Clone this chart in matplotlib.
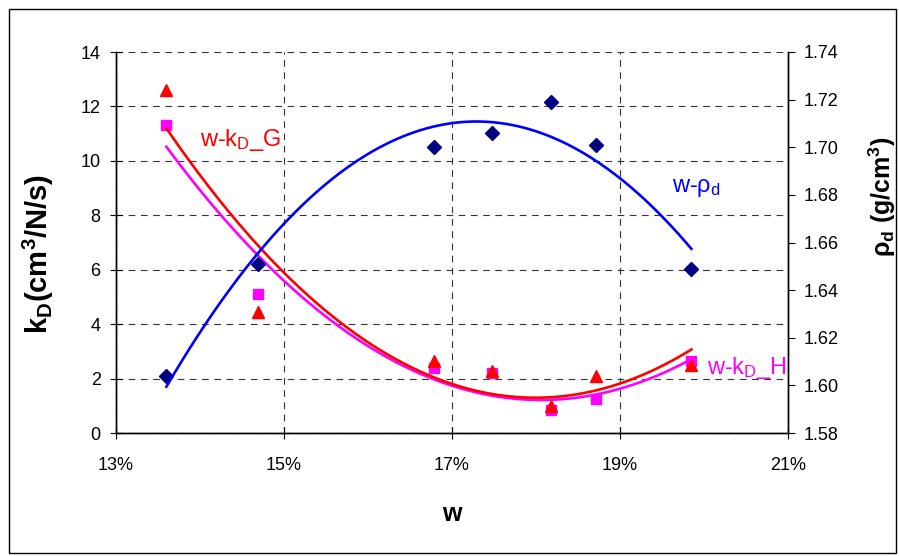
import numpy as np
import matplotlib
matplotlib.use("Agg")
import matplotlib.pyplot as plt
from matplotlib.patches import Rectangle
from matplotlib.ticker import FuncFormatter

# water content (%) and measured values
w = [13.6, 14.69, 16.78, 17.48, 18.18, 18.72, 19.85]
rho_d = [1.604, 1.651, 1.700, 1.706, 1.719, 1.701, 1.649]
kD_G = [12.6, 4.46, 2.63, 2.26, 0.98, 2.08, 2.51]
kD_H = [11.3, 5.10, 2.39, 2.20, 0.86, 1.26, 2.63]

plt.rcParams.update({
    "font.family": ["Liberation Sans", "DejaVu Sans"],
    "mathtext.fontset": "custom",
    "mathtext.rm": "Liberation Sans",
    "mathtext.bf": "Liberation Sans:bold",
    "mathtext.it": "Liberation Sans:italic",
})


def trend(x, y, deg=2):
    # 2nd order polynomial trend line, like the spreadsheet one
    c = np.polyfit(x, y, deg)
    xs = np.linspace(min(x), max(x), 200)
    return xs, np.polyval(c, xs)


fig = plt.figure(figsize=(8.99, 5.56), dpi=100)
W, H = 899, 556
ax = fig.add_axes([116 / W, 1 - 433 / H, (788 - 116) / W, (433 - 52) / H])
ax2 = ax.twinx()

ax.plot(w, kD_H, ls="none", marker="s", ms=7, color="#ff00ff", zorder=3)
ax.plot(w, kD_G, ls="none", marker="^", ms=8.5, color="#ff0000", zorder=3)
xs, ys = trend(w, kD_H)
ax.plot(xs, ys, color="#ff00ff", lw=1.9, zorder=4)
xs, ys = trend(w, kD_G)
ax.plot(xs, ys, color="#ff0000", lw=1.9, zorder=4)

ax2.plot(w, rho_d, ls="none", marker="D", ms=7, color="#000080", zorder=3)
xs, ys = trend(w, rho_d)
ax2.plot(xs, ys, color="#0000ff", lw=1.9, zorder=4)

ax.set_xlim(13, 21)
ax.set_ylim(0, 14)
ax2.set_ylim(1.58, 1.74)
ax.set_xticks([13, 15, 17, 19, 21])
ax.set_yticks(range(0, 15, 2))
ax2.set_yticks(np.arange(1.58, 1.7401, 0.02))
ax.xaxis.set_major_formatter(FuncFormatter(lambda v, p: f"{v:.0f}%"))
ax2.yaxis.set_major_formatter(FuncFormatter(lambda v, p: f"{v:.2f}"))

ax.grid(True, color="#333333", ls=(0, (6, 5)), lw=0.8)
for a in (ax, ax2):
    a.spines["top"].set_visible(False)
    for s in ("left", "bottom", "right"):
        a.spines[s].set_linewidth(1.0)
ax.tick_params(axis="both", direction="inout", length=8, width=0.8,
               labelsize=13, pad=7)
ax2.tick_params(axis="y", direction="out", length=5, width=0.8,
                labelsize=13, pad=6)
ax.tick_params(axis="x", pad=13)

ax.set_xlabel("w", fontsize=18, fontweight="bold")
ax.xaxis.set_label_coords(0.5, -0.18)
ax.set_ylabel(r"k$_\mathbf{D}$(cm$^\mathbf{3}$/N/s)", fontsize=21,
              fontweight="bold")
ax.yaxis.set_label_coords(-0.089, 0.47)
ax2.set_ylabel(r"ρ$_\mathbf{d}$ (g/cm$^\mathbf{3}$)", fontsize=18,
               fontweight="bold", rotation=90)
ax2.yaxis.set_label_coords(1.117, 0.62)

ax.text(14.48, 10.77, r"w-k$_\mathrm{D}$_G", color="#ff0000", fontsize=17,
        ha="center", va="center")
ax.text(19.62, 9.0, r"w-ρ$_\mathrm{d}$", color="#0000ff", fontsize=17,
        ha="left", va="center")
ax.text(20.04, 2.4, r"w-k$_\mathrm{D}$_H", color="#ff00ff", fontsize=17,
        ha="left", va="center")

fig.patches.append(Rectangle((9 / W, 3 / H), (W - 12) / W, (H - 12) / H,
                             transform=fig.transFigure, fill=False,
                             ec="black", lw=1.0))

fig.savefig("out.png", dpi=100)
